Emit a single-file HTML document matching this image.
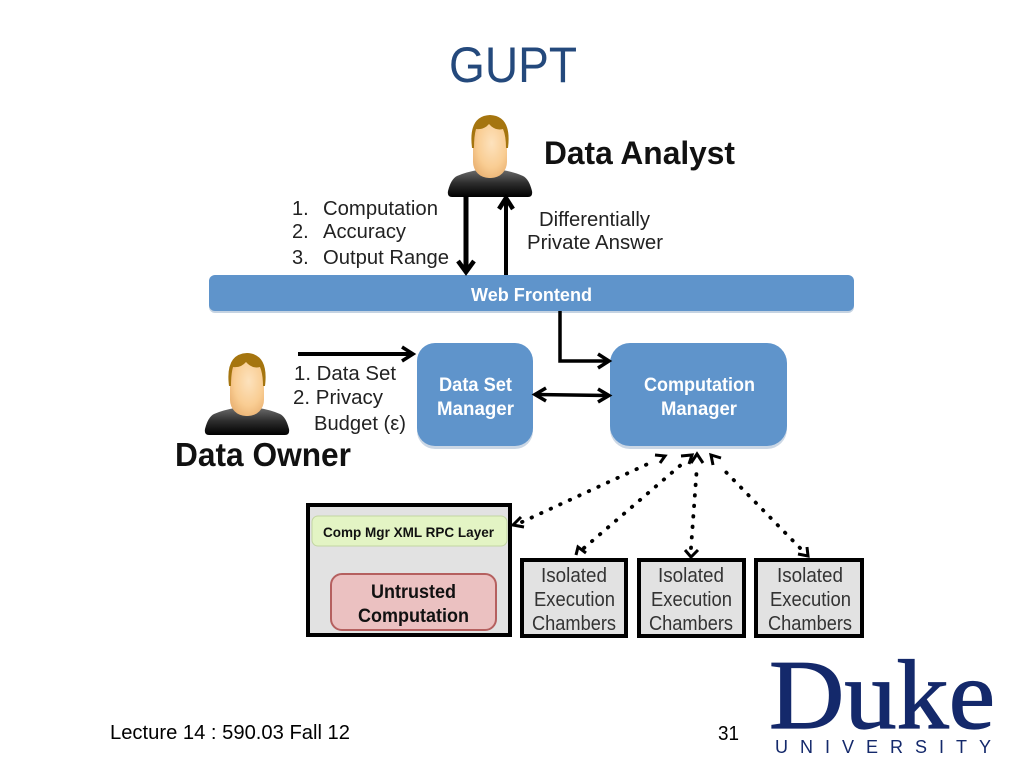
<!DOCTYPE html>
<html>
<head>
<meta charset="utf-8">
<style>
html,body{margin:0;padding:0;background:#fff;width:1024px;height:768px;overflow:hidden}
svg{display:block}
text{font-family:"Liberation Sans",sans-serif}
.b{font-weight:bold}
.w{fill:#fff;font-weight:bold;font-size:19px}
.l{fill:#222;font-size:20px}
.g{fill:#333;font-size:20px}
</style>
</head>
<body>
<svg width="1024" height="768" viewBox="0 0 1024 768" xmlns="http://www.w3.org/2000/svg">
<defs>
<linearGradient id="body" x1="0" y1="0" x2="0" y2="1"><stop offset="0" stop-color="#6a6a6a"/><stop offset=".5" stop-color="#2c2c2c"/><stop offset="1" stop-color="#000"/></linearGradient>
<radialGradient id="face" cx=".55" cy=".4" r=".7"><stop offset="0" stop-color="#fde2bd"/><stop offset=".6" stop-color="#f9cd93"/><stop offset="1" stop-color="#e8ae6e"/></radialGradient>
<g id="person">
<path d="M448 191Q451 179 457 176Q466 172 478 170L502 170Q514 172 523 176Q529 179 532 191Q533 197 528 197L452 197Q447 197 448 191Z" fill="url(#body)"/>
<path d="M480 160L480 173Q490 181 500 173L500 160Z" fill="#efbd85"/>
<rect x="473" y="120" width="34" height="58" rx="16" fill="url(#face)"/>
<path d="M472 148Q468 116 490 115Q512 116 508 148L506 148Q506 136 503 129Q495 131 489 124Q484 130 476 129Q474 136 474 148Z" fill="#a5750f"/>
</g>
</defs>

<text x="449" y="82" font-size="50" fill="#24497c" textLength="128" lengthAdjust="spacingAndGlyphs">GUPT</text>

<use href="#person"/>
<use href="#person" transform="translate(-243 238)"/>

<text class="b" x="544" y="164" font-size="32" fill="#111" textLength="191" lengthAdjust="spacingAndGlyphs">Data Analyst</text>
<text class="b" x="175" y="466" font-size="33" fill="#111" textLength="176" lengthAdjust="spacingAndGlyphs">Data Owner</text>

<text class="l" x="292" y="215">1.</text>
<text class="l" x="323" y="215" textLength="115" lengthAdjust="spacingAndGlyphs">Computation</text>
<text class="l" x="292" y="238">2.</text>
<text class="l" x="323" y="238" textLength="83" lengthAdjust="spacingAndGlyphs">Accuracy</text>
<text class="l" x="292" y="264">3.</text>
<text class="l" x="323" y="264" textLength="126" lengthAdjust="spacingAndGlyphs">Output Range</text>
<text class="l" x="539" y="226" textLength="111" lengthAdjust="spacingAndGlyphs">Differentially</text>
<text class="l" x="527" y="249" textLength="136" lengthAdjust="spacingAndGlyphs">Private Answer</text>

<rect x="209" y="277" width="645" height="36" rx="6" fill="#9fb6cf" opacity=".6"/>
<rect x="209" y="275" width="645" height="36" rx="6" fill="#5f94cb"/>
<text x="471" y="301" font-size="18" class="b" fill="#fff" textLength="121" lengthAdjust="spacingAndGlyphs">Web Frontend</text>

<line x1="466" y1="196" x2="466" y2="272" stroke="#000" stroke-width="5"/>
<path d="M458 261L466 272L474 261" fill="none" stroke="#000" stroke-width="4.500"/>
<line x1="506" y1="275" x2="506" y2="199" stroke="#000" stroke-width="4"/>
<path d="M499 209L506 198L513 209" fill="none" stroke="#000" stroke-width="4.500"/>

<rect x="417" y="346" width="116" height="103" rx="18" fill="#a8bdd3" opacity=".6"/>
<rect x="610" y="346" width="177" height="103" rx="20" fill="#a8bdd3" opacity=".6"/>
<rect x="417" y="343" width="116" height="103" rx="18" fill="#5f94cb"/>
<rect x="610" y="343" width="177" height="103" rx="20" fill="#5f94cb"/>
<text class="w" x="439" y="391" textLength="73" lengthAdjust="spacingAndGlyphs">Data Set</text>
<text class="w" x="437" y="415" textLength="77" lengthAdjust="spacingAndGlyphs">Manager</text>
<text class="w" x="644" y="391" textLength="111" lengthAdjust="spacingAndGlyphs">Computation</text>
<text class="w" x="661" y="415" textLength="76" lengthAdjust="spacingAndGlyphs">Manager</text>

<line x1="298" y1="354" x2="412" y2="354" stroke="#000" stroke-width="4"/>
<path d="M402 347L413 354L402 361" fill="none" stroke="#000" stroke-width="3.500"/>
<path d="M560 311L560 361L608 361" fill="none" stroke="#000" stroke-width="3.500"/>
<path d="M598 354L609 361L598 368" fill="none" stroke="#000" stroke-width="3.500"/>
<line x1="536" y1="394.500" x2="607" y2="395.500" stroke="#000" stroke-width="3.500"/>
<path d="M546 388L535 394.500L546 401M598 389L609 395.500L598 402" fill="none" stroke="#000" stroke-width="3.500"/>

<text class="l" x="294" y="380" textLength="102" lengthAdjust="spacingAndGlyphs">1. Data Set</text>
<text class="l" x="293" y="404" textLength="90" lengthAdjust="spacingAndGlyphs">2. Privacy</text>
<text class="l" x="314" y="430" textLength="92" lengthAdjust="spacingAndGlyphs">Budget (ε)</text>

<g fill="none" stroke="#000" stroke-width="3.800" stroke-linecap="round" stroke-dasharray="0.5 10">
<line x1="522" y1="522" x2="652" y2="462"/>
<line x1="584" y1="548" x2="682" y2="464"/>
<line x1="691" y1="548" x2="697" y2="466"/>
<line x1="800" y1="548" x2="720" y2="466"/>
</g>
<g fill="none" stroke="#000" stroke-width="3">
<path d="M655 455L665 456L660 463"/>
<path d="M681 456L692 455L689 464"/>
<path d="M691 463L697 454L703 463"/>
<path d="M713 465L711 455L721 458"/>
<path d="M521 517L513 525L524 527"/>
<path d="M576 555L578 547L586 553"/>
<path d="M685 550L691 557L698 550"/>
<path d="M798 554L808 556L807 547"/>
</g>

<rect x="308" y="505" width="202" height="130" fill="#e2e2e2" stroke="#000" stroke-width="4"/>
<rect x="312" y="516" width="195" height="30" rx="6" fill="#e3f4c4" stroke="#c3d6a2" stroke-width="1"/>
<text class="b" x="323" y="537" font-size="14" fill="#111" textLength="171" lengthAdjust="spacingAndGlyphs">Comp Mgr XML RPC Layer</text>
<rect x="331" y="574" width="165" height="56" rx="11" fill="#ebc1c1" stroke="#b5605f" stroke-width="2"/>
<text class="b" x="371" y="598" font-size="19" fill="#111" textLength="85" lengthAdjust="spacingAndGlyphs">Untrusted</text>
<text class="b" x="358" y="622" font-size="19" fill="#111" textLength="111" lengthAdjust="spacingAndGlyphs">Computation</text>

<rect x="522" y="560" width="104" height="76" fill="#e2e2e2" stroke="#000" stroke-width="4"/>
<rect x="639" y="560" width="105" height="76" fill="#e2e2e2" stroke="#000" stroke-width="4"/>
<rect x="756" y="560" width="106" height="76" fill="#e2e2e2" stroke="#000" stroke-width="4"/>
<text class="g" x="541" y="582" textLength="66" lengthAdjust="spacingAndGlyphs">Isolated</text>
<text class="g" x="534" y="606" textLength="81" lengthAdjust="spacingAndGlyphs">Execution</text>
<text class="g" x="532" y="630" textLength="84" lengthAdjust="spacingAndGlyphs">Chambers</text>
<text class="g" x="658" y="582" textLength="66" lengthAdjust="spacingAndGlyphs">Isolated</text>
<text class="g" x="651" y="606" textLength="81" lengthAdjust="spacingAndGlyphs">Execution</text>
<text class="g" x="649" y="630" textLength="84" lengthAdjust="spacingAndGlyphs">Chambers</text>
<text class="g" x="777" y="582" textLength="66" lengthAdjust="spacingAndGlyphs">Isolated</text>
<text class="g" x="770" y="606" textLength="81" lengthAdjust="spacingAndGlyphs">Execution</text>
<text class="g" x="768" y="630" textLength="84" lengthAdjust="spacingAndGlyphs">Chambers</text>

<text x="110" y="739" font-size="20" fill="#000" textLength="240" lengthAdjust="spacingAndGlyphs">Lecture 14 : 590.03 Fall 12</text>
<text x="718" y="740" font-size="20" fill="#000" textLength="21" lengthAdjust="spacingAndGlyphs">31</text>

<text x="769" y="728" font-size="99" fill="#14296b" stroke="#14296b" stroke-width="1.200" style="font-family:'Liberation Serif',serif" textLength="226" lengthAdjust="spacingAndGlyphs">Duke</text>
<text x="775" y="753" font-size="18" fill="#14296b" textLength="216" lengthAdjust="spacing">UNIVERSITY</text>
</svg>
</body>
</html>
